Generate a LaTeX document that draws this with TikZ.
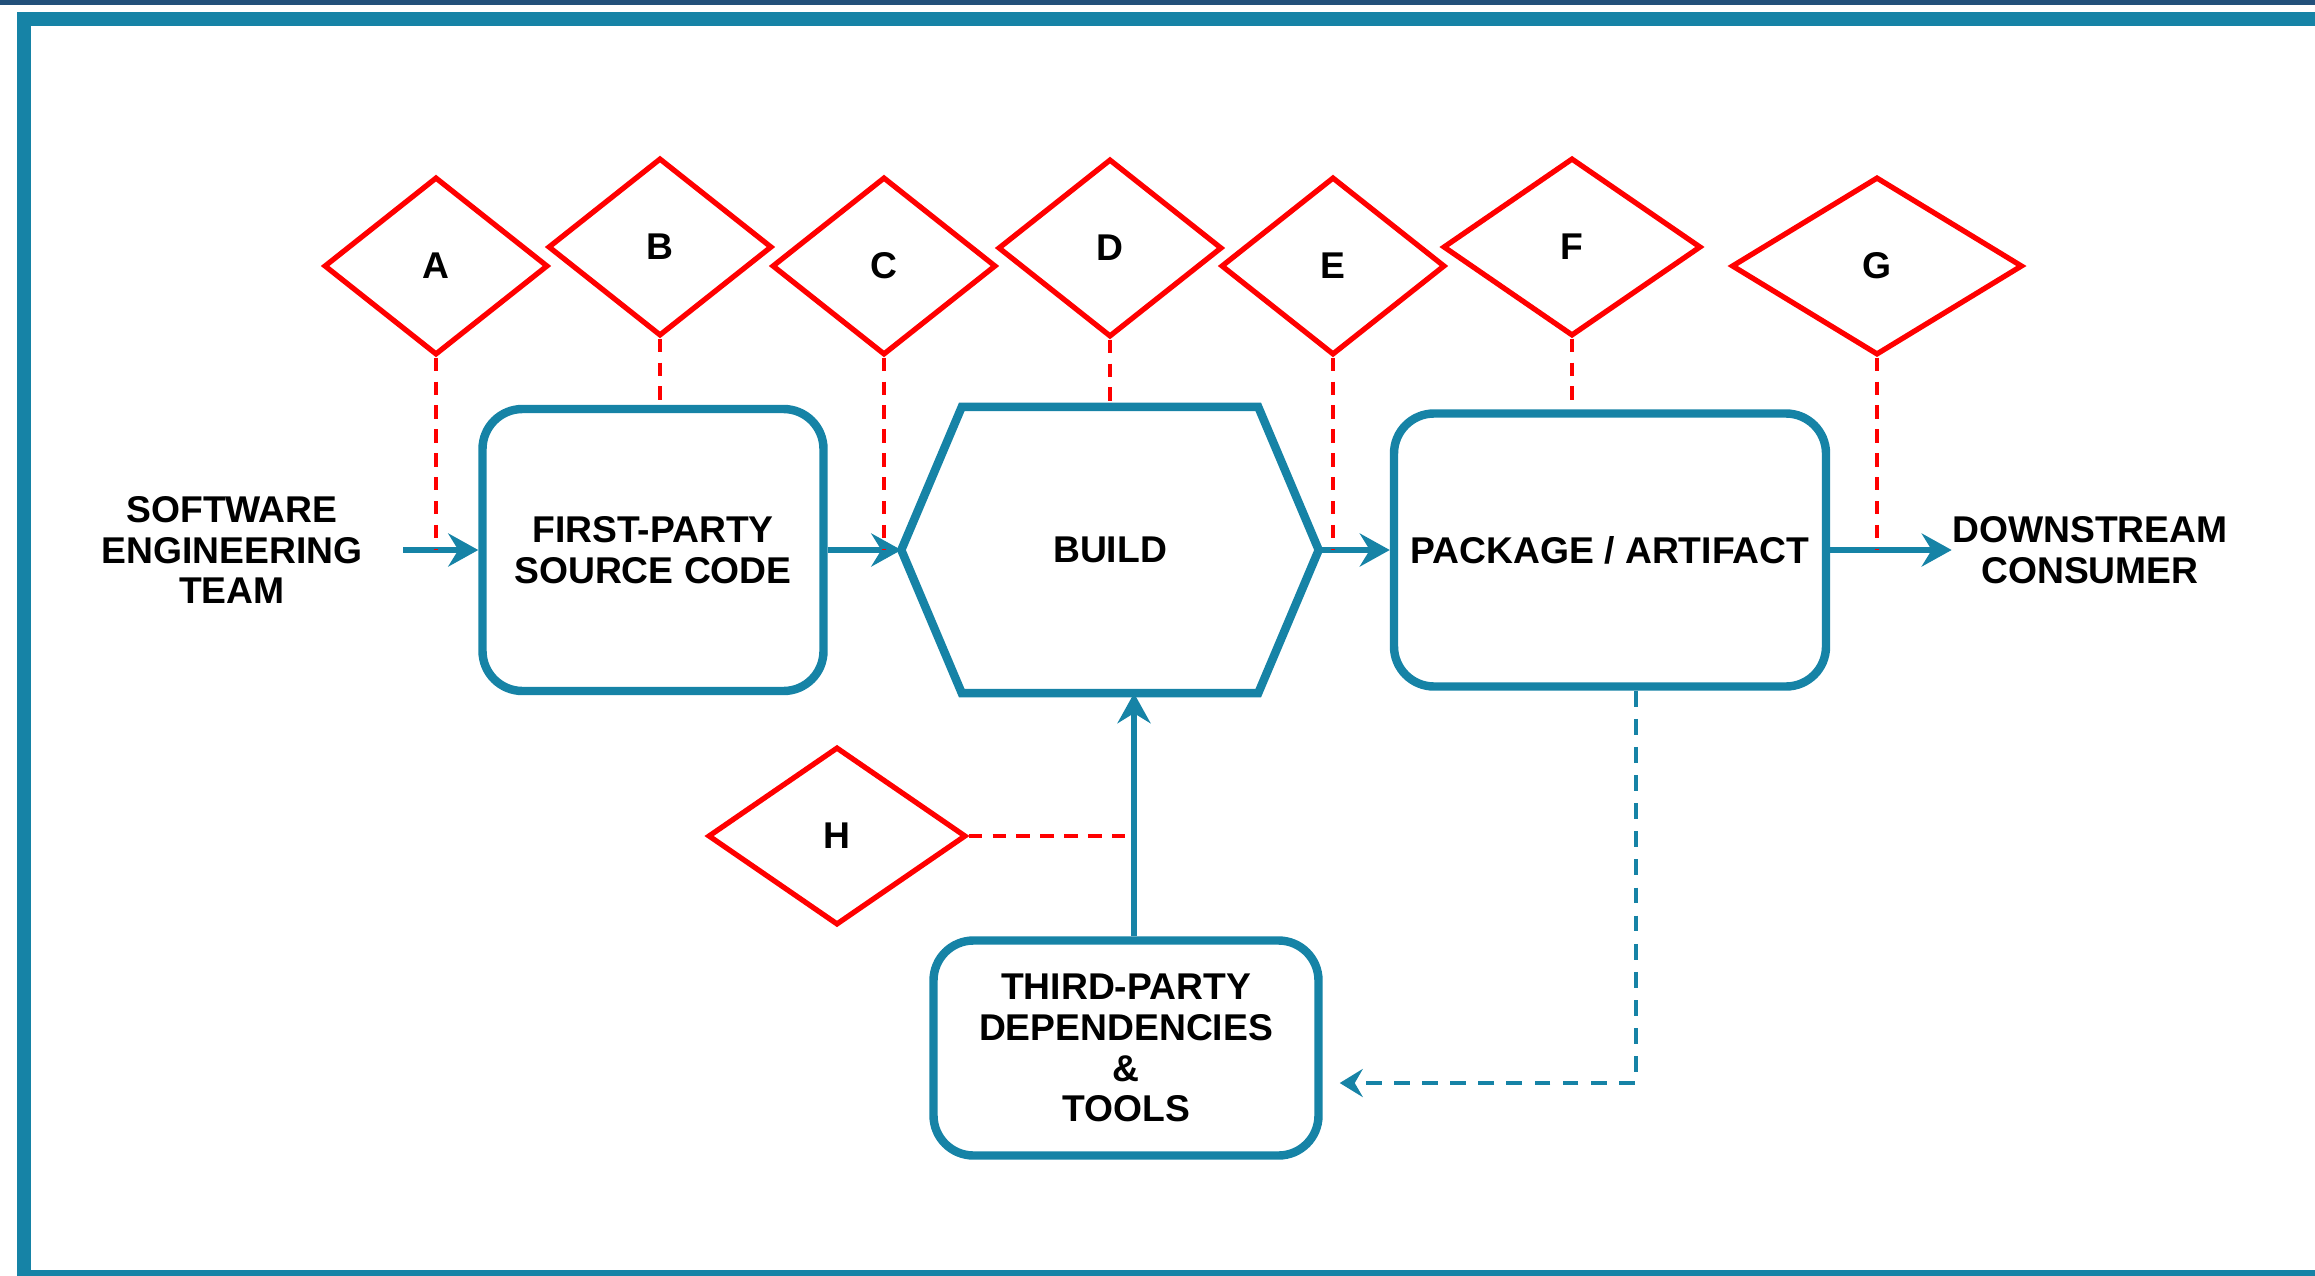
\documentclass[tikz,border=0pt]{standalone}
\usepackage{fontspec}
\setmainfont{Liberation Sans}
\usetikzlibrary{shapes.geometric,arrows.meta,positioning}
\definecolor{tealc}{RGB}{22,131,166}
\definecolor{navyc}{RGB}{34,80,122}
\definecolor{redc}{RGB}{255,0,0}
\newcommand{\diagfont}{\fontsize{10.6}{11.6}\selectfont\bfseries}

\begin{document}
\begin{tikzpicture}[on grid,node distance=3cm,
    block/.style={draw=tealc,line width=2.4pt,rounded corners=0.4cm,align=center,font=\diagfont},
    gate/.style={diamond,draw=redc,line width=1.5pt,inner sep=0pt,minimum width=2.24cm,minimum height=1.78cm,font=\diagfont},
    flow/.style={draw=tealc,line width=1.5pt,-{Stealth[length=3mm,width=3.3mm,inset=1mm]}},
    probe/.style={draw=redc,line width=1.4pt,dash pattern=on 3.8pt off 3pt},
    back/.style={draw=tealc,line width=1.4pt,dash pattern=on 4.5pt off 3.5pt,-{Stealth[length=2.3mm,width=2.8mm,inset=0.8mm]},shorten >=0.17cm},
    lbl/.style={align=center,font=\diagfont,inner sep=0pt}]

    \useasboundingbox (0,0) rectangle (23.15,-12.76);
    \fill[navyc] (0,0) rectangle (23.15,-0.05);
    \fill[tealc] (0.17,-0.12) rectangle (23.15,-0.26);
    \fill[tealc] (0.17,-0.12) rectangle (0.31,-12.76);
    \fill[tealc] (0.17,-12.70) rectangle (23.15,-12.76);

    \node[block,minimum width=3.41cm,minimum height=2.82cm] (src) at (6.53,-5.50) {FIRST-PARTY\\SOURCE CODE};
    \node[lbl,minimum width=2.95cm,minimum height=2.85cm] (build) [right=4.57cm of src] {BUILD};
    \node[block,minimum width=4.32cm,minimum height=2.73cm] (pkg) [right=5cm of build] {PACKAGE / ARTIFACT};
    \node[lbl] (team) [left=4.21cm of src] {SOFTWARE\\ENGINEERING\\TEAM};
    \node[lbl] (down) [right=4.8cm of pkg] {DOWNSTREAM\\CONSUMER};
    \node[block,minimum width=3.85cm,minimum height=2.15cm] (third) [below right=4.98cm and 0.16cm of build] {THIRD-PARTY\\DEPENDENCIES\\\&\\TOOLS};

    \draw[tealc,line width=2.4pt] (build.north west) -- (build.north east)
        -- ([xshift=0.605cm]build.east) coordinate (bR) -- (build.south east)
        -- (build.south west) -- ([xshift=-0.605cm]build.west) coordinate (bL) -- cycle;

    \node[gate] (A) at (4.36,-2.66) {A};
    \node[gate] (B) at (6.60,-2.47) {B};
    \node[gate] (C) at (8.84,-2.66) {C};
    \node[gate] (D) [above=3.02cm of build] {D};
    \node[gate] (E) at (13.33,-2.66) {E};
    \node[gate,minimum width=2.58cm] (F) at (15.72,-2.47) {F};
    \node[gate,minimum width=2.91cm] (G) at (18.77,-2.66) {G};
    \node[gate,minimum width=2.58cm] (H) at (8.37,-8.36) {H};

    \draw[flow] ([xshift=0.4cm]team.east) -- (src);
    \draw[flow] (src) -- (bL);
    \draw[flow] (bR) -- (pkg);
    \draw[flow] (pkg) -- (down);
    \draw[flow] ([xshift=0.08cm]third.north) coordinate (up) -- (up |- build.south);
    \draw[back] ([xshift=0.26cm]pkg.south) |- ([yshift=-0.35cm]third.east);

    \draw[probe] (A.south) -- (A.south |- src.west);
    \draw[probe] (B.south) -- (B.south |- src.north);
    \draw[probe] (C.south) -- (C.south |- bL);
    \draw[probe] (D.south) -- (build.north);
    \draw[probe] (E.south) -- (E.south |- bR);
    \draw[probe] (F.south) -- (F.south |- pkg.north);
    \draw[probe] (G.south) -- (G.south |- pkg.east);
    \draw[probe] (H.east) -- (H.east -| up);
\end{tikzpicture}
\end{document}
